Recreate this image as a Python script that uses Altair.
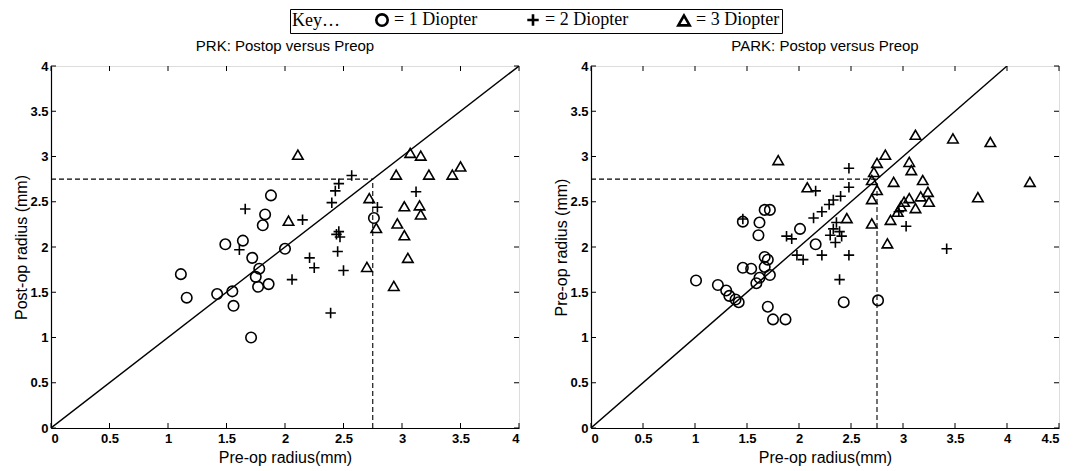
import altair as alt
import pandas as pd

# ---------------- data ----------------
# PRK panel
prk_c_x = [1.11, 1.16, 1.42, 1.55, 1.56, 1.49, 1.64, 1.72, 1.78, 1.75, 1.77, 1.86, 1.71, 2.00, 1.81, 1.83, 1.88, 2.76]
prk_c_y = [1.70, 1.44, 1.48, 1.51, 1.35, 2.03, 2.07, 1.88, 1.76, 1.67, 1.56, 1.59, 1.00, 1.98, 2.24, 2.36, 2.57, 2.32]
prk_p_x = [1.66, 1.61, 2.15, 2.44, 2.47, 2.46, 2.45, 2.21, 2.25, 2.50, 2.06, 2.39, 2.40, 2.43, 2.46, 2.57, 2.79, 3.12]
prk_p_y = [2.42, 1.97, 2.30, 2.14, 2.11, 2.17, 1.95, 1.88, 1.77, 1.74, 1.64, 1.27, 2.49, 2.62, 2.70, 2.79, 2.44, 2.61]
prk_t_x = [2.11, 2.03, 2.72, 2.78, 2.70, 2.93, 2.95, 3.07, 3.16, 3.02, 3.15, 3.16, 2.96, 3.02, 3.05, 3.23, 3.43, 3.50]
prk_t_y = [3.02, 2.29, 2.54, 2.21, 1.78, 1.57, 2.80, 3.04, 3.01, 2.45, 2.46, 2.36, 2.26, 2.13, 1.88, 2.80, 2.80, 2.89]

# PARK panel
park_c_x = [1.01, 1.22, 1.30, 1.33, 1.39, 1.42, 1.46, 1.54, 1.46, 1.62, 1.67, 1.72, 1.61, 1.67, 1.70, 1.67, 1.72,
            1.62, 1.59, 1.70, 1.75, 1.87, 2.01, 2.16, 2.43, 2.76]
park_c_y = [1.63, 1.58, 1.52, 1.46, 1.42, 1.39, 1.77, 1.76, 2.28, 2.27, 2.41, 2.41, 2.13, 1.89, 1.86, 1.78, 1.69,
            1.66, 1.60, 1.34, 1.20, 1.20, 2.20, 2.03, 1.39, 1.41]
park_p_x = [1.46, 1.88, 1.93, 1.98, 2.04, 2.14, 2.16, 2.22, 2.22, 2.29, 2.33, 2.40, 2.48, 2.48, 2.36, 2.33, 2.39,
            2.30, 2.41, 2.35, 2.48, 2.39, 3.42, 3.03, 2.96]
park_p_y = [2.31, 2.12, 2.09, 1.91, 1.86, 2.32, 2.62, 2.39, 1.91, 2.47, 2.52, 2.56, 2.87, 2.66, 2.27, 2.20, 2.17,
            2.13, 2.12, 2.05, 1.91, 1.64, 1.98, 2.23, 2.39]
park_t_x = [1.80, 2.08, 2.46, 2.70, 2.70, 2.75, 2.70, 2.72, 2.75, 2.83, 2.91, 2.88, 2.85, 2.95, 2.98, 3.01, 3.06,
            3.12, 3.17, 3.25, 3.24, 3.19, 3.08, 3.06, 3.12, 3.48, 3.84, 3.72, 4.22]
park_t_y = [2.96, 2.66, 2.32, 2.26, 2.53, 2.63, 2.74, 2.83, 2.93, 3.02, 2.72, 2.30, 2.04, 2.39, 2.45, 2.50, 2.54,
            2.43, 2.56, 2.50, 2.61, 2.74, 2.85, 2.94, 3.24, 3.20, 3.16, 2.55, 2.72]

diopters = ["1", "2", "3"]
ref_value = 2.75          # dashed reference lines
diag = [0, 4]             # identity line
ticks_4 = [0, 0.5, 1, 1.5, 2, 2.5, 3, 3.5, 4]
ticks_45 = [0, 0.5, 1, 1.5, 2, 2.5, 3, 3.5, 4, 4.5]

W, H = 468, 362
FONT = "Liberation Sans"
PLUS = "M-1,0H1M0,-1V1"


def panel(cx, cy, px, py, tx, ty, xmax, xticks, ytitle, title):
    pts = pd.DataFrame({
        "x": cx + px + tx,
        "y": cy + py + ty,
        "Diopter": [diopters[0]] * len(cx) + [diopters[1]] * len(px) + [diopters[2]] * len(tx),
    })
    xs = alt.Scale(domain=[0, xmax], nice=False, zero=False)
    ys = alt.Scale(domain=[0, 4], nice=False, zero=False)
    common = dict(format="~g", ticks=False, grid=False,
                  labelFont=FONT, labelFontSize=13, labelFontWeight="bold", labelColor="black",
                  titleFont=FONT, titleFontSize=16, titleFontWeight="normal", titleColor="black",
                  domainColor="black", domainWidth=1.2)
    xax = alt.Axis(values=xticks, title="Pre-op radius(mm)", labelPadding=4, titlePadding=4, **common)
    yax = alt.Axis(values=ticks_4, title=ytitle, labelPadding=3, titlePadding=0, **common)

    points = alt.Chart(pts).mark_point(filled=False, color="black", strokeWidth=1.6, size=110, opacity=1).encode(
        x=alt.X("x:Q", scale=xs, axis=xax),
        y=alt.Y("y:Q", scale=ys, axis=yax),
        shape=alt.Shape("Diopter:N",
                        scale=alt.Scale(domain=diopters, range=["circle", PLUS, "triangle-up"]),
                        legend=alt.Legend(
                            title="Key…", orient="none", legendX=239, legendY=-57,
                            direction="horizontal", titleOrient="left",
                            titleFont="Liberation Serif", titleFontSize=18, titleFontWeight="normal",
                            titleColor="black", titlePadding=33,
                            labelFont="Liberation Serif", labelFontSize=18, labelColor="black",
                            labelExpr="'= ' + datum.label + ' Diopter'",
                            symbolSize=130, symbolStrokeWidth=2.6, symbolStrokeColor="black",
                            strokeColor="black", padding=2, columnPadding=44, labelOffset=3)),
    )

    diag_df = pd.DataFrame({"x": diag, "y": diag})
    line = alt.Chart(diag_df).mark_line(color="black", strokeWidth=1.4, clip=True).encode(
        x=alt.X("x:Q", scale=xs), y=alt.Y("y:Q", scale=ys))

    h_df = pd.DataFrame({"x": [0], "x2": [ref_value], "y": [ref_value]})
    v_df = pd.DataFrame({"x": [ref_value], "y": [0], "y2": [ref_value]})
    hrule = alt.Chart(h_df).mark_rule(color="black", strokeDash=[5, 3], strokeWidth=1.1).encode(
        x=alt.X("x:Q", scale=xs), x2="x2:Q", y=alt.Y("y:Q", scale=ys))
    vrule = alt.Chart(v_df).mark_rule(color="black", strokeDash=[5, 3], strokeWidth=1.1).encode(
        x=alt.X("x:Q", scale=xs), y=alt.Y("y:Q", scale=ys), y2="y2:Q")

    # MATLAB-style inward ticks on all four sides
    xt = pd.DataFrame({"t": xticks})
    yt = pd.DataFrame({"t": ticks_4})
    tick_style = dict(color="black", strokeWidth=1)
    tb = alt.Chart(xt).mark_rule(**tick_style).encode(
        x=alt.X("t:Q", scale=xs), y=alt.value(H), y2=alt.value(H - 5))
    tt = alt.Chart(xt).mark_rule(**tick_style).encode(
        x=alt.X("t:Q", scale=xs), y=alt.value(0), y2=alt.value(5))
    tl = alt.Chart(yt).mark_rule(**tick_style).encode(
        y=alt.Y("t:Q", scale=ys), x=alt.value(0), x2=alt.value(5))
    tr = alt.Chart(yt).mark_rule(**tick_style).encode(
        y=alt.Y("t:Q", scale=ys), x=alt.value(W), x2=alt.value(W - 5))

    return alt.layer(hrule, vrule, line, tb, tt, tl, tr, points).properties(
        width=W, height=H,
        title=alt.TitleParams(title, font=FONT, fontSize=15, fontWeight="normal", color="black", offset=6),
    )


left = panel(prk_c_x, prk_c_y, prk_p_x, prk_p_y, prk_t_x, prk_t_y, 4, ticks_4,
             "Post-op radius (mm)", "PRK: Postop versus Preop")
right = panel(park_c_x, park_c_y, park_p_x, park_p_y, park_t_x, park_t_y, 4.5, ticks_45,
              "Pre-op radius (mm)", "PARK: Postop versus Preop")

chart = alt.hconcat(left, right, spacing=72, bounds="flush").properties(
    padding={"left": 5, "top": 0, "right": 0, "bottom": 0}
).configure_view(stroke="black", strokeWidth=1.2).configure(background="white")

chart.save("out.html", embed_options={"renderer": "svg", "actions": False})
